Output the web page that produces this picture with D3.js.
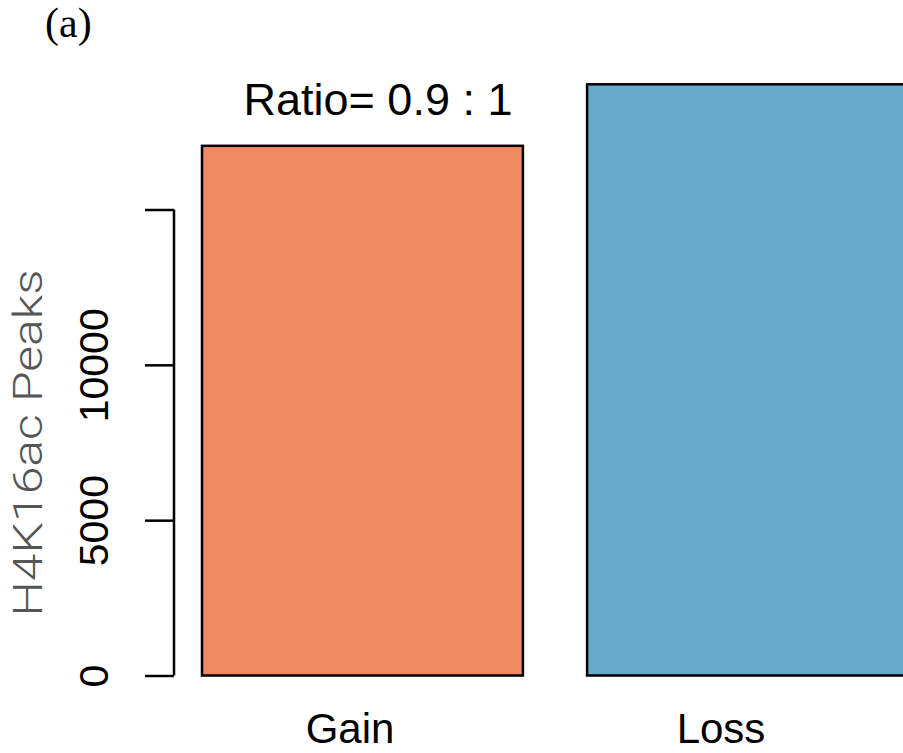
<!DOCTYPE html>
<html>
<head>
<meta charset="utf-8">
<script src="https://cdn.jsdelivr.net/npm/d3@7"></script>
<style>
  body { margin: 0; background: #fff; }
  svg { display: block; }
</style>
</head>
<body>
<div id="chart"></div>
<script>
// Data
var categories = ["Gain", "Loss"];
var peaks = [17050, 19030];
var barColors = ["#EF8A62", "#67A9CF"];
var tickValues = [0, 5000, 10000, 15000];
var tickLabels = ["0", "5000", "10000", ""];
var ratioText = "Ratio= 0.9 : 1";
var panelLabel = "(a)";
var yTitle = "H4K16ac Peaks";

var W = 903, H = 753;

var svg = d3.select("#chart").append("svg")
    .attr("width", W)
    .attr("height", H);

// Scales
var x = d3.scaleBand()
    .domain(categories)
    .range([202, 908])
    .paddingInner(1 / 6)
    .paddingOuter(0);

var y = d3.scaleLinear()
    .domain([0, 15000])
    .range([675.5, 209.5]);

// Bars
svg.selectAll(".bar")
    .data(categories)
    .enter().append("rect")
    .attr("class", "bar")
    .attr("x", function(c) { return x(c); })
    .attr("width", x.bandwidth())
    .attr("y", function(c, i) { return y(peaks[i]); })
    .attr("height", function(c, i) { return y(0) - y(peaks[i]); })
    .style("fill", function(c, i) { return barColors[i]; })
    .style("stroke", "#000")
    .style("stroke-width", 2.5);

// Y axis (R style: line spans tick range, rotated labels)
var yAxis = svg.append("g")
    .attr("transform", "translate(174,0)")
    .call(d3.axisLeft(y)
        .tickValues(tickValues)
        .tickSize(29)
        .tickFormat(function(d, i) { return tickLabels[i]; }));

yAxis.select(".domain")
    .attr("d", "M0," + y(15000) + "V" + y(0))
    .style("stroke", "#000")
    .style("stroke-width", 2.5);

yAxis.selectAll(".tick line")
    .style("stroke", "#000")
    .style("stroke-width", 2.5);

yAxis.selectAll(".tick text")
    .attr("x", null)
    .attr("dy", null)
    .attr("transform", "translate(-66,0) rotate(-90)")
    .style("text-anchor", "middle")
    .style("font-family", "'Liberation Sans', Arial, sans-serif")
    .style("font-size", "41px")
    .style("fill", "#000");

// Category labels
var labelX = d3.scalePoint()
    .domain(categories)
    .range([350, 721]);

svg.selectAll(".cat-label")
    .data(categories)
    .enter().append("text")
    .attr("class", "cat-label")
    .attr("x", function(c) { return labelX(c); })
    .attr("y", 743)
    .style("text-anchor", "middle")
    .style("font-family", "'Liberation Sans', Arial, sans-serif")
    .style("font-size", "42px")
    .text(function(c) { return c; });

// Ratio annotation
svg.append("text")
    .attr("x", 378)
    .attr("y", 115)
    .style("text-anchor", "middle")
    .style("font-family", "'Liberation Sans', Arial, sans-serif")
    .style("font-size", "45px")
    .text(ratioText);

// Y axis title
svg.append("text")
    .attr("transform", "translate(42," + 443 + ") rotate(-90)")
    .style("text-anchor", "middle")
    .style("font-family", "Roboto, 'Open Sans', sans-serif")
    .style("font-weight", 300)
    .style("font-size", "40px")
    .style("fill", "#555")
    .attr("textLength", 347)
    .attr("lengthAdjust", "spacingAndGlyphs")
    .text(yTitle);

// Panel label
svg.append("text")
    .attr("x", 45)
    .attr("y", 37)
    .style("font-family", "'Liberation Serif', 'Times New Roman', serif")
    .style("font-size", "42px")
    .text(panelLabel);
</script>
</body>
</html>
